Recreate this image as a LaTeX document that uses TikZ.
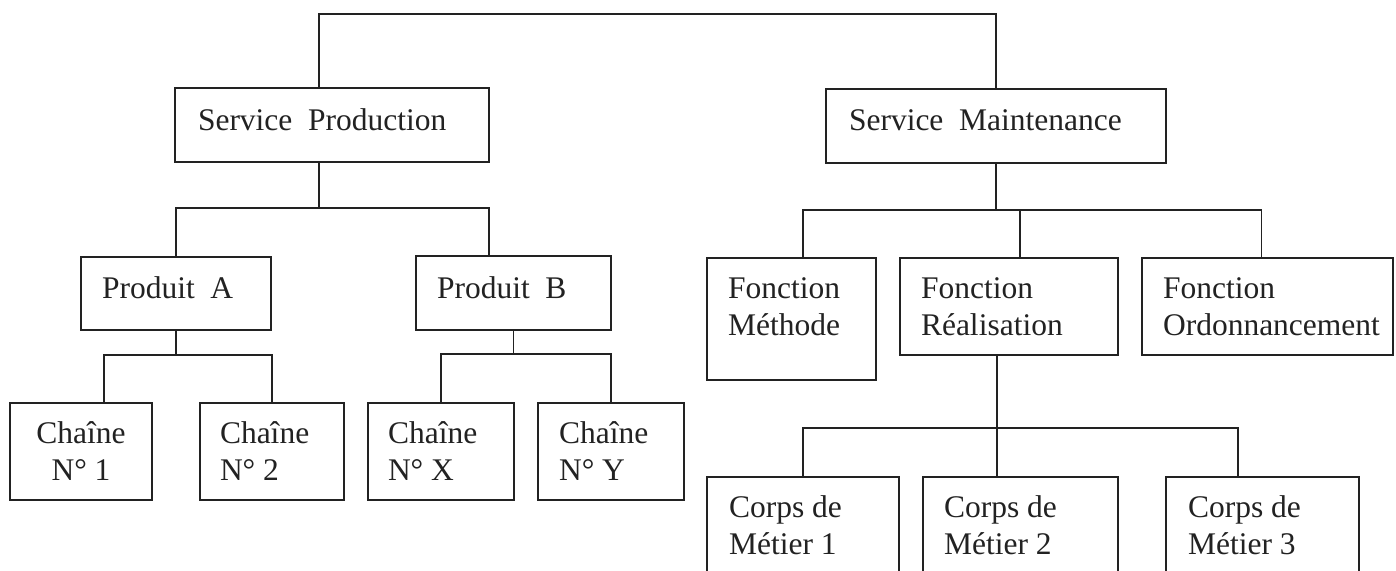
\documentclass[tikz,border=0pt]{standalone}
\usepackage{fontspec}
\setmainfont{Liberation Serif}
\definecolor{ink}{HTML}{222222}
\newcommand\orgfont{\fontsize{31.5}{37.5}\selectfont}
% stacked lines, first baseline is the box baseline
\newcommand\leftlines[1]{\vtop{\halign{##\hfil\cr#1\crcr}}}
\newcommand\midlines[1]{\vtop{\halign{\hfil##\hfil\cr#1\crcr}}}
% \obox{name}{x}{y}{width}{above baseline}{below baseline}{content}
\newcommand\obox[7]{%
  \node[box, text height=#5pt, text depth=#6pt] (#1) at (#2,#3) {\hbox to #4pt{#7\hfil}};}
\begin{document}
\begin{tikzpicture}[x=1pt,y=-1pt,
  box/.style={draw=ink, line width=1.8pt, inner sep=0pt, outer sep=0pt,
              anchor=north west, font=\orgfont, text=ink},
  link/.style={draw=ink, line width=1.8pt}]
\useasboundingbox[fill=white] (0,0) rectangle (1396,570);
\clip (0,0) rectangle (1396,570);

% services
\obox{sp}{175}{88}{314}{42}{32}{\hskip23pt Service~~Production}
\obox{sm}{826}{89}{340}{41}{33}{\hskip23pt Service~~Maintenance}

% products
\obox{pa}{81}{257}{190}{41}{32}{\hskip21pt Produit~~A}
\obox{pb}{416}{256}{195}{42}{32}{\hskip21pt Produit~~B}

% production lines
\obox{c1}{10}{403}{142}{40}{57}{\hfil\midlines{Chaîne\cr N° 1}}
\obox{c2}{200}{403}{144}{40}{57}{\hskip20pt\leftlines{Chaîne\cr N° 2}}
\obox{cx}{368}{403}{146}{40}{57}{\hskip20pt\leftlines{Chaîne\cr N° X}}
\obox{cy}{538}{403}{146}{40}{57}{\hskip21pt\leftlines{Chaîne\cr N° Y}}

% maintenance functions
\obox{fm}{707}{258}{169}{40}{82}{\hskip21pt\leftlines{Fonction\cr Méthode}}
\obox{fr}{900}{258}{218}{40}{57}{\hskip21pt\leftlines{Fonction\cr Réalisation}}
\obox{fo}{1142}{258}{251}{40}{57}{\hskip21pt\leftlines{Fonction\cr Ordonnancement}}

% trades
\obox{m1}{707}{477}{192}{40}{80}{\hskip22pt\leftlines{Corps de\cr Métier 1}}
\obox{m2}{923}{477}{195}{40}{80}{\hskip21pt\leftlines{Corps de\cr Métier 2}}
\obox{m3}{1166}{477}{193}{40}{80}{\hskip22pt\leftlines{Corps de\cr Métier 3}}

% bus points
\coordinate (bar)  at (319,14);
\coordinate (pbus) at (319,208);
\coordinate (abus) at (176,355);
\coordinate (bbus) at (513.5,354);
\coordinate (mbus) at (996,210);
\coordinate (rbus) at (997,428);

% top level
\draw[link] (sp.north -| bar) -- (bar) -| (sm.north);

% production branch
\draw[link] (sp.south -| pbus) -- (pbus);
\draw[link] (pa.north) |- (pbus) -| ([xshift=-24.5pt]pb.north);
\draw[link] (pa.south) -- (abus);
\draw[link] ([xshift=23pt]c1.north) |- (abus) -| (c2.north);
\draw[link] (pb.south) -- (bbus);
\draw[link] (cx.north) |- (bbus) -| (cy.north);

% maintenance branch
\draw[link] (sm.south) -- (mbus);
\draw[link] ([xshift=11.5pt]fm.north) |- (mbus) -| ([xshift=-6pt]fo.north);
\draw[link] ([xshift=11pt]fr.north) |- (mbus);
\draw[link] ([xshift=-12pt]fr.south) -- (rbus);
\draw[link] (m1.north) |- (rbus) -| ([xshift=-24.5pt]m3.north);
\draw[link] (rbus) -- (rbus |- m2.north);
\end{tikzpicture}
\end{document}
